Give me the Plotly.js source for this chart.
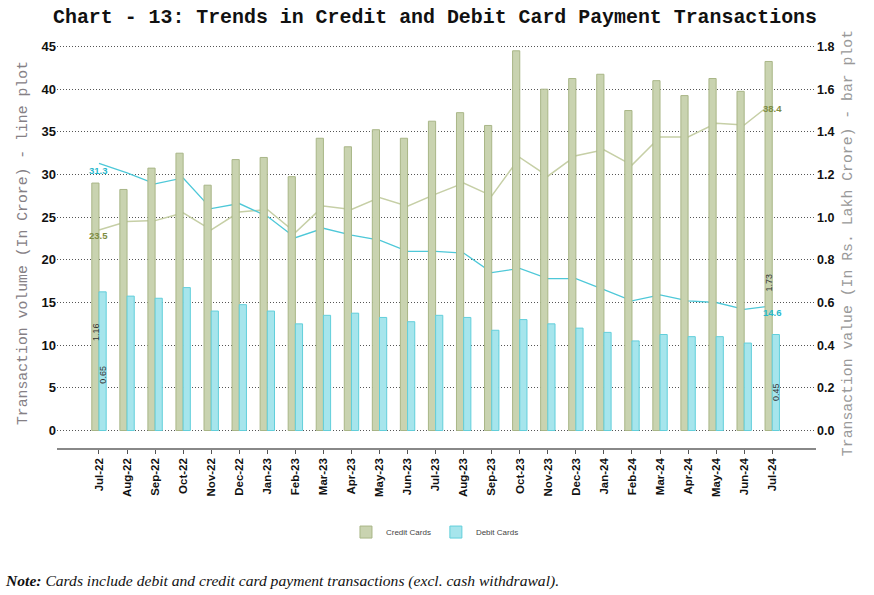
<!DOCTYPE html>
<html>
<head>
<meta charset="utf-8">
<script src="https://cdn.plot.ly/plotly-3.0.1.min.js"></script>
<style>html,body{margin:0;padding:0;background:#fff;}#chart{width:874px;height:595px;}</style>
</head>
<body>
<div id="chart"></div>
<script>
const months = ["Jul-22","Aug-22","Sep-22","Oct-22","Nov-22","Dec-22","Jan-23","Feb-23","Mar-23","Apr-23","May-23","Jun-23","Jul-23","Aug-23","Sep-23","Oct-23","Nov-23","Dec-23","Jan-24","Feb-24","Mar-24","Apr-24","May-24","Jun-24","Jul-24"];
// Transaction value (Rs. Lakh Crore) - bars, right axis
const creditValue = [1.16,1.13,1.23,1.30,1.15,1.27,1.28,1.19,1.37,1.33,1.41,1.37,1.45,1.49,1.43,1.78,1.60,1.65,1.67,1.50,1.64,1.57,1.65,1.59,1.73];
const debitValue  = [0.65,0.63,0.62,0.67,0.56,0.59,0.56,0.50,0.54,0.55,0.53,0.51,0.54,0.53,0.47,0.52,0.50,0.48,0.46,0.42,0.45,0.44,0.44,0.41,0.45];
// Transaction volume (Crore) - lines, left axis
const creditVolume = [23.5,24.5,24.6,25.5,23.5,25.6,25.9,23.2,26.3,25.9,27.3,26.3,27.7,29.0,27.5,32.0,29.8,32.2,32.9,31.1,34.4,34.4,36.0,35.8,38.4];
const debitVolume  = [31.3,30.2,28.9,29.6,26.0,26.6,25.1,22.6,23.7,22.9,22.3,21.0,21.0,20.8,18.5,19.0,17.8,17.8,16.5,15.2,15.9,15.2,15.0,14.2,14.6];
const leftTicks = [0,5,10,15,20,25,30,35,40,45];
const rightTicks = [0,0.2,0.4,0.6,0.8,1.0,1.2,1.4,1.6,1.8];

const C_BAR = "#c9d3b0", C_BAR_LINE = "#a9b687";
const D_BAR = "#a6e5ec", D_BAR_LINE = "#62cfdb";
const C_LINE = "#c6cfa6", D_LINE = "#4ec8d8";
const C_LBL = "#7d8c43", D_LBL = "#27b8cc";

const traces = [
  {type:"bar", name:"Credit Cards", x:months, y:creditValue, yaxis:"y2",
   marker:{color:C_BAR, line:{color:C_BAR_LINE, width:1}}, hoverinfo:"skip"},
  {type:"bar", name:"Debit Cards", x:months, y:debitValue, yaxis:"y2",
   marker:{color:D_BAR, line:{color:D_BAR_LINE, width:1}}, hoverinfo:"skip"},
  {type:"scatter", mode:"lines", name:"Credit volume", x:months, y:creditVolume, yaxis:"y",
   line:{color:C_LINE, width:1.5}, showlegend:false},
  {type:"scatter", mode:"lines", name:"Debit volume", x:months, y:debitVolume, yaxis:"y",
   line:{color:D_LINE, width:1.3}, showlegend:false}
];

const annotations = [];
const ends = [0, months.length-1];
ends.forEach(i => {
  annotations.push({x:months[i], y:creditVolume[i], xref:"x", yref:"y", text:creditVolume[i].toFixed(1),
    showarrow:false, yshift:-6, font:{family:"Arial", size:9.5, color:C_LBL, weight:"bold"}});
  annotations.push({x:months[i], y:debitVolume[i], xref:"x", yref:"y", text:debitVolume[i].toFixed(1),
    showarrow:false, yshift:-7, font:{family:"Arial", size:9.5, color:D_LBL, weight:"bold"}});
  annotations.push({x:months[i], y:creditValue[i]*0.4, xref:"x", yref:"y2", text:creditValue[i].toFixed(2),
    showarrow:false, textangle:-90, xshift:-3.6, font:{family:"Arial", size:9, color:"#333"}});
  annotations.push({x:months[i], y:debitValue[i]*0.4, xref:"x", yref:"y2", text:debitValue[i].toFixed(2),
    showarrow:false, textangle:-90, xshift:3.6, font:{family:"Arial", size:9, color:"#333"}});
});
annotations.push({xref:"paper", yref:"paper", x:-0.0713, y:-0.3244, xanchor:"left", yanchor:"middle",
  showarrow:false, align:"left",
  text:"<b><i>Note:</i></b><i> Cards include debit and credit card payment transactions (excl. cash withdrawal).</i>",
  font:{family:"Liberation Serif", size:15.6, color:"#111"}});

const layout = {
  width:874, height:595,
  margin:{l:57, r:58, t:38, b:147},
  paper_bgcolor:"#fff", plot_bgcolor:"#fff",
  title:{text:"Chart - 13: Trends in Credit and Debit Card Payment Transactions",
    font:{family:"Liberation Mono", size:19.9, color:"#111", weight:"bold"},
    x:0.4977, xanchor:"center", xref:"container", y:0.9730, yanchor:"middle", yref:"container"},
  barmode:"group", bargap:0.487, bargroupgap:0,
  xaxis:{type:"category", range:[-1.497, 25.56], showgrid:false, zeroline:false,
    showline:true, linecolor:"#888", linewidth:1.5,
    ticks:"outside", ticklen:4, tickcolor:"#555", tickangle:-90,
    tickfont:{family:"Arial", size:11.5, color:"#111", weight:"bold"}},
  yaxis:{range:[-2.05, 46.0], tickvals:leftTicks, showgrid:true, gridcolor:"#555", griddash:"1px,2px", gridwidth:1,
    zeroline:false, showline:false, ticks:"",
    tickfont:{family:"Arial", size:13, color:"#111", weight:"bold"},
    title:{text:"Transaction volume (In Crore) - line plot", standoff:10,
      font:{family:"Liberation Mono", size:14.8, color:"#858085"}}},
  yaxis2:{range:[-0.082, 1.84], tickvals:rightTicks, tickformat:".1f", overlaying:"y", side:"right",
    showgrid:false, zeroline:false, showline:false, ticks:"",
    tickfont:{family:"Arial", size:12.5, color:"#111", weight:"bold"},
    title:{text:"Transaction value (In Rs. Lakh Crore) - bar plot", standoff:8,
      font:{family:"Liberation Mono", size:14.8, color:"#999"}}},
  legend:{orientation:"h", x:0.498, xanchor:"center", y:-0.205, yanchor:"middle",
    font:{family:"Arial", size:8, color:"#444"}, itemwidth:30, traceorder:"normal"},
  annotations:annotations,
  showlegend:true
};

Plotly.newPlot("chart", traces, layout, {staticPlot:true, displayModeBar:false});
</script>
</body>
</html>
